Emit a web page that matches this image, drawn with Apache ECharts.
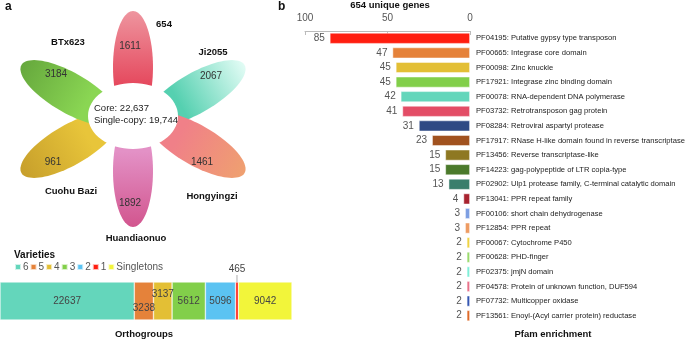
<!DOCTYPE html>
<html>
<head>
<meta charset="utf-8">
<script src="https://cdn.jsdelivr.net/npm/echarts@6/dist/echarts.min.js"></script>
<style>
  html, body { margin: 0; padding: 0; background: #fff; }
  #runChart { width: 685px; height: 340px; }
</style>
</head>
<body>
<div id="runChart"></div>
<script>
// flower (panel a)
const petalNames = ["654", "Ji2055", "Hongyingzi", "Huandiaonuo", "Cuohu Bazi", "BTx623"];
const petalCounts = [1611, 2067, 1461, 1892, 961, 3184];
const coreCount = 22637;
const singleCopyCount = 19744;

// orthogroup stacked bar
const varietyNames = ["6", "5", "4", "3", "2", "1", "Singletons"];
const orthoCounts = [22637, 3238, 3137, 5612, 5096, 465, 9042];

// pfam enrichment (panel b)
const pfamIds = ["PF04195", "PF00665", "PF00098", "PF17921", "PF00078", "PF03732", "PF08284", "PF17917", "PF13456", "PF14223",
  "PF02902", "PF13041", "PF00106", "PF12854", "PF00067", "PF00628", "PF02375", "PF04578", "PF07732", "PF13561"];
const pfamNames = ["Putative gypsy type transposon", "Integrase core domain", "Zinc knuckle", "Integrase zinc binding domain",
  "RNA-dependent DNA polymerase", "Retrotransposon gag protein", "Retroviral aspartyl protease",
  "RNase H-like domain found in reverse transcriptase", "Reverse transcriptase-like", "gag-polypeptide of LTR copia-type",
  "Ulp1 protease family, C-terminal catalytic domain", "PPR repeat family", "short chain dehydrogenase", "PPR repeat",
  "Cytochrome P450", "PHD-finger", "jmjN domain", "Protein of unknown function, DUF594", "Multicopper oxidase",
  "Enoyl-(Acyl carrier protein) reductase"];
const pfamCounts = [85, 47, 45, 45, 42, 41, 31, 23, 15, 15, 13, 4, 3, 3, 2, 2, 2, 2, 2, 2];
const pfamTicks = [0, 50, 100];

const FONT = "'Liberation Sans', Arial, sans-serif";

const pfamColors = ["#FF1E10", "#E5823A", "#E3BF35", "#82CF4A", "#64D6BB", "#E34D66", "#2F4A84", "#A1521F", "#8E7822", "#4B7A2B",
  "#3A7E6C", "#A8232F", "#7E9FE2", "#EE9C63", "#EFD342", "#9ADB6C", "#7FEFD8", "#E9728A", "#3556B2", "#DF6A28"];
const varietyColors = ["#64D6BB", "#E5823A", "#E3BF35", "#82CF4A", "#5BC3F2", "#FF1E10", "#F2F53A"];
// [tip, inner]
const petalColors = [["#EE959F", "#E5475C"], ["#E2FCF5", "#55D0B0"], ["#EFA070", "#F08088"],
  ["#D2558E", "#E391C6"], ["#C79F2B", "#E8C53A"], ["#66A83D", "#8AD653"]];
// text offsets from flower centre (px)
const numberOffsets = [[-3, -73], [78, -43], [69, 43], [-3, 84], [-80, 43], [-77, -45]];
const nameOffsets = [[31, -95], [80, -67], [79, 77], [3, 119], [-62, 72], [-65, -77]];
const PETAL = { d: 52, a: 56, b: 20 };
const SX = 1.4; // horizontal spread of petal centres

function renderPetal(params, api) {
  let i = params.dataIndex;
  let th = (90 - 60 * i) * Math.PI / 180;
  let cx = PETAL.d * Math.cos(th) * SX, cy = PETAL.d * Math.sin(th);
  let pts = [];
  for (let k = 0; k < 90; k++) {
    let t = k / 90 * Math.PI * 2;
    let lx = PETAL.a * Math.cos(t);
    let ly = PETAL.b * Math.sin(t);
    pts.push(api.coord([cx + lx * Math.cos(th) - ly * Math.sin(th), cy + lx * Math.sin(th) + ly * Math.cos(th)]));
  }
  let tip = api.coord([cx + PETAL.a * Math.cos(th), cy + PETAL.a * Math.sin(th)]);
  let inner = api.coord([cx - 0.35 * PETAL.a * Math.cos(th), cy - 0.35 * PETAL.a * Math.sin(th)]);
  let c0 = api.coord([0, 0]);
  let col = petalColors[i];
  return {
    type: "group",
    children: [
      {
        type: "polygon",
        shape: { points: pts },
        style: {
          fill: new echarts.graphic.LinearGradient(tip[0], tip[1], inner[0], inner[1],
            [{ offset: 0, color: col[0] }, { offset: 1, color: col[1] }], true)
        }
      },
      {
        type: "text",
        x: c0[0] + numberOffsets[i][0],
        y: c0[1] + numberOffsets[i][1],
        style: { text: String(api.value(1)), fill: "#333", font: "10px " + FONT, align: "center", verticalAlign: "middle" }
      },
      {
        type: "text",
        x: c0[0] + nameOffsets[i][0],
        y: c0[1] + nameOffsets[i][1],
        style: { text: petalNames[i], fill: "#111", font: "bold 9.5px " + FONT, align: "center", verticalAlign: "middle" }
      }
    ]
  };
}

function renderCore(params, api) {
  let c0 = api.coord([0, 0]);
  return {
    type: "group",
    children: [
      { type: "ellipse", shape: { cx: c0[0], cy: c0[1] - 3, rx: 45, ry: 33 }, style: { fill: "#fff" } },
      {
        type: "text",
        x: c0[0] - 39,
        y: c0[1] - 5,
        style: {
          text: "Core: " + coreCount.toLocaleString("en-US") + "\nSingle-copy: " + singleCopyCount.toLocaleString("en-US"),
          fill: "#222", font: "9.5px " + FONT, align: "left", verticalAlign: "middle", lineHeight: 12
        }
      }
    ]
  };
}

const orthoTotal = orthoCounts.reduce((s, v) => s + v, 0);
const labelShift = { "3238": [0, 7], "3137": [0, -7] };

const orthoSeries = varietyNames.map((name, i) => {
  let v = orthoCounts[i];
  let s = {
    name: name,
    type: "bar",
    stack: "og",
    xAxisIndex: 2,
    yAxisIndex: 2,
    barWidth: "100%",
    data: [v],
    itemStyle: { color: varietyColors[i], borderColor: "rgba(255,255,255,0.7)", borderWidth: 0.6 },
    label: {
      show: true,
      position: "inside",
      color: "#444",
      fontSize: 10,
      fontFamily: FONT,
      offset: labelShift[String(v)] || [0, 0]
    }
  };
  if (v < 1000) {
    // small slice: value above the bar with a short leader
    s.label = {
      show: true,
      position: "top",
      distance: 0,
      formatter: "{v|{c}}\n{l|}",
      rich: {
        v: { color: "#444", fontSize: 10, fontFamily: FONT, lineHeight: 12 },
        l: { width: 0.8, height: 7, backgroundColor: "#999" }
      }
    };
  }
  return s;
});

const titleStyle = { fontFamily: FONT, fontWeight: "bold", fontSize: 9.5, color: "#111" };

let option = {
  animation: false,
  backgroundColor: "#fff",
  title: [
    { text: "a", left: 5, top: 1, padding: 0, textStyle: Object.assign({}, titleStyle, { fontSize: 12 }) },
    { text: "b", left: 278, top: 1, padding: 0, textStyle: Object.assign({}, titleStyle, { fontSize: 12 }) },
    { text: "654 unique genes", left: 390, top: 0, textAlign: "center", padding: 0, textStyle: titleStyle },
    { text: "Pfam enrichment", left: 553, top: 329, textAlign: "center", padding: 0, textStyle: titleStyle },
    { text: "Varieties", left: 14, top: 250, padding: 0, textStyle: Object.assign({}, titleStyle, { fontSize: 10 }) },
    { text: "Orthogroups", left: 144, top: 329, textAlign: "center", padding: 0, textStyle: titleStyle }
  ],
  legend: {
    data: varietyNames,
    left: 14,
    top: 262,
    padding: 0,
    icon: "rect",
    itemWidth: 6,
    itemHeight: 6,
    itemGap: 1,
    selectedMode: false,
    textStyle: { color: "#555", fontSize: 10, fontFamily: FONT, padding: [0, 0, 0, -3] }
  },
  grid: [
    { left: 305, top: 31, width: 165, height: 292, outerBoundsMode: "none" },
    { left: 0, top: 0, width: 270, height: 240, outerBoundsMode: "none" },
    { left: 0, top: 282, width: 292, height: 38, outerBoundsMode: "none" }
  ],
  xAxis: [
    {
      gridIndex: 0,
      type: "value",
      inverse: true,
      position: "top",
      min: pfamTicks[0],
      max: pfamTicks[pfamTicks.length - 1],
      interval: 50,
      axisLine: { show: true, lineStyle: { color: "#bbb" } },
      axisTick: { show: true, inside: true, length: 4, lineStyle: { color: "#bbb" } },
      axisLabel: { color: "#555", fontSize: 10, fontFamily: FONT, margin: 8 },
      splitLine: { show: false }
    },
    { gridIndex: 1, type: "value", min: -133, max: 137, show: false },
    { gridIndex: 2, type: "value", min: 0, max: orthoTotal, show: false }
  ],
  yAxis: [
    {
      gridIndex: 0,
      type: "category",
      inverse: true,
      position: "right",
      data: pfamIds.map((id, i) => id + ": " + pfamNames[i]),
      axisLine: { show: false },
      axisTick: { show: false },
      axisLabel: { color: "#222", fontSize: 7.6, fontFamily: FONT, margin: 6 }
    },
    { gridIndex: 1, type: "value", min: -121, max: 119, show: false },
    { gridIndex: 2, type: "category", data: ["Orthogroups"], show: false }
  ],
  series: [
    {
      name: "Pfam",
      type: "bar",
      xAxisIndex: 0,
      yAxisIndex: 0,
      barWidth: 11,
      data: pfamCounts.map((v, i) => ({ value: v, itemStyle: { color: pfamColors[i] } })),
      itemStyle: { borderColor: "rgba(255,255,255,0.6)", borderWidth: 0.8 },
      label: { show: true, position: "left", distance: 5, color: "#555", fontSize: 10, fontFamily: FONT }
    },
    {
      name: "petals",
      type: "custom",
      xAxisIndex: 1,
      yAxisIndex: 1,
      data: petalCounts.map((v, i) => [i, v]),
      renderItem: renderPetal,
      z: 2
    },
    {
      name: "core",
      type: "custom",
      xAxisIndex: 1,
      yAxisIndex: 1,
      data: [[0, coreCount]],
      renderItem: renderCore,
      z: 3
    }
  ].concat(orthoSeries)
};

var myChart = echarts.init(document.getElementById("runChart"));
myChart.setOption(option);
</script>
</body>
</html>
